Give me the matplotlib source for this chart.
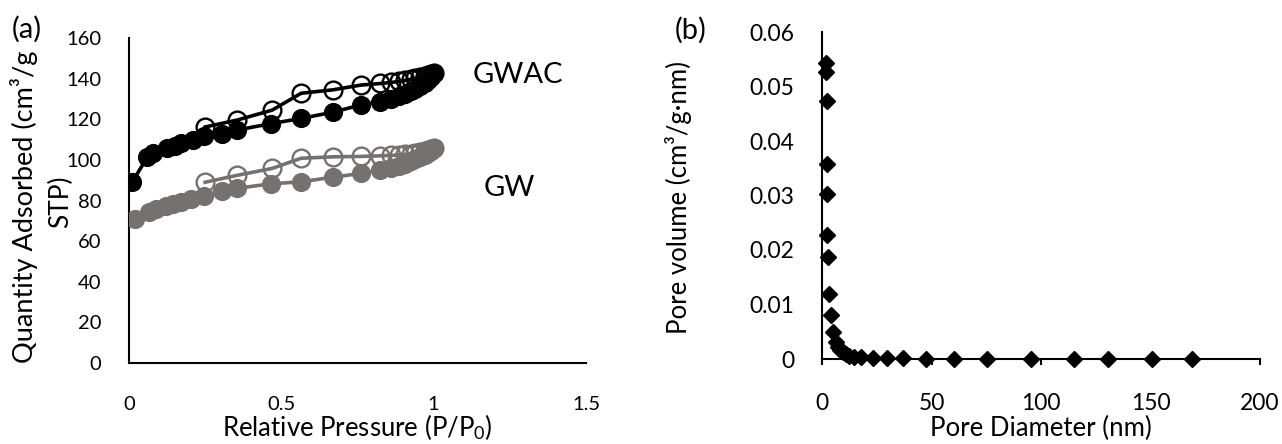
import matplotlib
matplotlib.use("Agg")
import matplotlib.pyplot as plt

plt.rcParams['font.family'] = ['Lato', 'DejaVu Sans']
plt.rcParams['mathtext.fontset'] = 'custom'
plt.rcParams['mathtext.rm'] = 'Lato'
plt.rcParams['mathtext.it'] = 'Lato:italic'

# ---------------- data: panel (a) N2 isotherms ----------------
gwac_ads_x = [0.01, 0.06, 0.08, 0.125, 0.15, 0.17, 0.21, 0.245, 0.305, 0.355, 0.465, 0.565,
              0.67, 0.76, 0.825, 0.86, 0.885, 0.905, 0.925, 0.94, 0.955, 0.97, 0.98, 0.99, 1.0]
gwac_ads_y = [89, 101.3, 103.5, 105.6, 107.0, 108.5, 110.0, 111.6, 112.8, 114.7, 117.8, 120.4,
              123.5, 127.0, 128.7, 130.2, 131.4, 132.6, 133.8, 135.0, 136.3, 137.8, 139.3, 141.0, 142.8]
gwac_des_x = [1.0, 0.99, 0.98, 0.97, 0.955, 0.94, 0.925, 0.905, 0.885, 0.86, 0.825, 0.76,
              0.67, 0.565, 0.47, 0.355, 0.25]
gwac_des_y = [142.8, 142.3, 141.7, 141.2, 140.6, 140.1, 139.6, 139.1, 138.6, 138.1, 137.6, 136.8,
              134.5, 132.8, 124.5, 119.6, 116.2]

gw_ads_x = [0.02, 0.065, 0.09, 0.12, 0.145, 0.17, 0.205, 0.245, 0.305, 0.355, 0.465, 0.565,
            0.67, 0.76, 0.825, 0.86, 0.885, 0.905, 0.925, 0.94, 0.955, 0.97, 0.98, 0.99, 1.0]
gw_ads_y = [70.7, 74.5, 76.0, 77.3, 78.3, 79.3, 80.5, 82.0, 84.5, 86.0, 88.2, 89.2,
            91.5, 93.3, 95.0, 96.2, 97.2, 98.2, 99.2, 100.2, 101.2, 102.3, 103.4, 104.6, 105.8]
gw_des_x = [1.0, 0.99, 0.98, 0.97, 0.955, 0.94, 0.925, 0.905, 0.885, 0.86, 0.825, 0.76,
            0.67, 0.565, 0.47, 0.355, 0.25]
gw_des_y = [105.8, 105.2, 104.7, 104.2, 103.8, 103.4, 103.0, 102.7, 102.4, 102.2, 102.0, 101.7,
            101.5, 100.8, 95.8, 92.4, 89.0]

a_xticks = [0, 0.5, 1, 1.5]
a_xticklabels = ['0', '0.5', '1', '1.5']
a_yticks = [0, 20, 40, 60, 80, 100, 120, 140, 160]

# ---------------- data: panel (b) pore size distribution ----------------
pore_d = [1.8, 1.9, 2.1, 2.1, 2.4, 2.4, 2.9, 3.2, 4.0, 5.2, 6.4, 7.3, 8.3, 9.5, 11.0, 12.5,
          14.5, 18.0, 23.4, 29.5, 37.0, 47.5, 60.5, 75.5, 95.5, 115.0, 130.5, 150.5, 169.0]
pore_v = [0.0544, 0.0527, 0.0473, 0.0358, 0.0303, 0.0228, 0.0187, 0.0119, 0.0081, 0.0050,
          0.0032, 0.0022, 0.0016, 0.0012, 0.0009, 0.0006, 0.0004, 0.0003, 0.0002, 0.0001,
          0.0001, 0.0, 0.0, 0.0, 0.0, 0.0, 0.0, 0.0, 0.0]
b_xticks = [0, 50, 100, 150, 200]
b_yticks = [0, 0.01, 0.02, 0.03, 0.04, 0.05, 0.06]
b_yticklabels = ['0', '0.01', '0.02', '0.03', '0.04', '0.05', '0.06']

GRAY = '#767171'
W, H = 1282, 444

fig = plt.figure(figsize=(W / 100, H / 100), dpi=100)

def px_axes(l, r, t, b):
    return fig.add_axes([l / W, 1 - b / H, (r - l) / W, (b - t) / H])

# ---------------- panel (a) ----------------
ax1 = px_axes(129, 586, 38, 363)
ms = 12.8
ax1.plot(gw_des_x, gw_des_y, '-o', color=GRAY, lw=2.6, ms=ms, mfc='none', mec=GRAY, mew=1.7, zorder=3)
ax1.plot(gw_ads_x, gw_ads_y, '-o', color=GRAY, lw=2.6, ms=ms, mfc=GRAY, mec=GRAY, zorder=4)
ax1.plot(gwac_des_x, gwac_des_y, '-o', color='black', lw=2.6, ms=ms, mfc='none', mec='black', mew=1.7, zorder=3)
ax1.plot(gwac_ads_x, gwac_ads_y, '-o', color='black', lw=2.6, ms=ms, mfc='black', mec='black', zorder=4)
ax1.set_xlim(0, 1.5)
ax1.set_ylim(0, 160)
ax1.set_xticks(a_xticks)
ax1.set_xticklabels(a_xticklabels)
ax1.set_yticks(a_yticks)
for s in ['top', 'right']:
    ax1.spines[s].set_visible(False)
for s in ['left', 'bottom']:
    ax1.spines[s].set_linewidth(1.5)
ax1.tick_params(axis='x', length=0, pad=24, labelsize=14.5)
ax1.tick_params(axis='y', length=0, pad=20, labelsize=14.5)
ax1.set_xlabel('Relative Pressure (P/P$_0$)', fontsize=18.5)
ax1.xaxis.set_label_coords(0.5, -0.15)

fig.text(24 / W, 1 - 207 / H, 'Quantity Adsorbed (cm³/g', rotation=90, fontsize=19.5,
         ha='center', va='center')
fig.text(61 / W, 1 - 202 / H, 'STP)', rotation=90, fontsize=19, ha='center', va='center')
fig.text(27 / W, 1 - 29 / H, '(a)', fontsize=21, ha='center', va='center')
fig.text(518 / W, 1 - 75 / H, 'GWAC', fontsize=21, ha='center', va='center')
fig.text(509 / W, 1 - 188 / H, 'GW', fontsize=21, ha='center', va='center')

# ---------------- panel (b) ----------------
ax2 = px_axes(822, 1260, 32, 359)
ax2.plot(pore_d, pore_v, linestyle='none', marker='D', ms=8.3, color='black', clip_on=False, zorder=4)
ax2.set_xlim(0, 200)
ax2.set_ylim(0, 0.06)
ax2.set_xticks(b_xticks)
ax2.set_yticks(b_yticks)
ax2.set_yticklabels(b_yticklabels)
for s in ['top', 'right']:
    ax2.spines[s].set_visible(False)
for s in ['left', 'bottom']:
    ax2.spines[s].set_linewidth(1.5)
ax2.tick_params(axis='x', direction='out', length=4.5, width=1.5, pad=20, labelsize=16.5)
ax2.tick_params(axis='y', length=0, pad=20, labelsize=16.5)
ax2.set_xlabel('Pore Diameter (nm)', fontsize=18.5)
ax2.xaxis.set_label_coords(0.5, -0.175)
fig.text(679 / W, 1 - 198 / H, 'Pore volume (cm³/g·nm)', rotation=90, fontsize=18.5,
         ha='center', va='center')
fig.text(691 / W, 1 - 30 / H, '(b)', fontsize=21, ha='center', va='center')

fig.savefig('out.png', dpi=100)
